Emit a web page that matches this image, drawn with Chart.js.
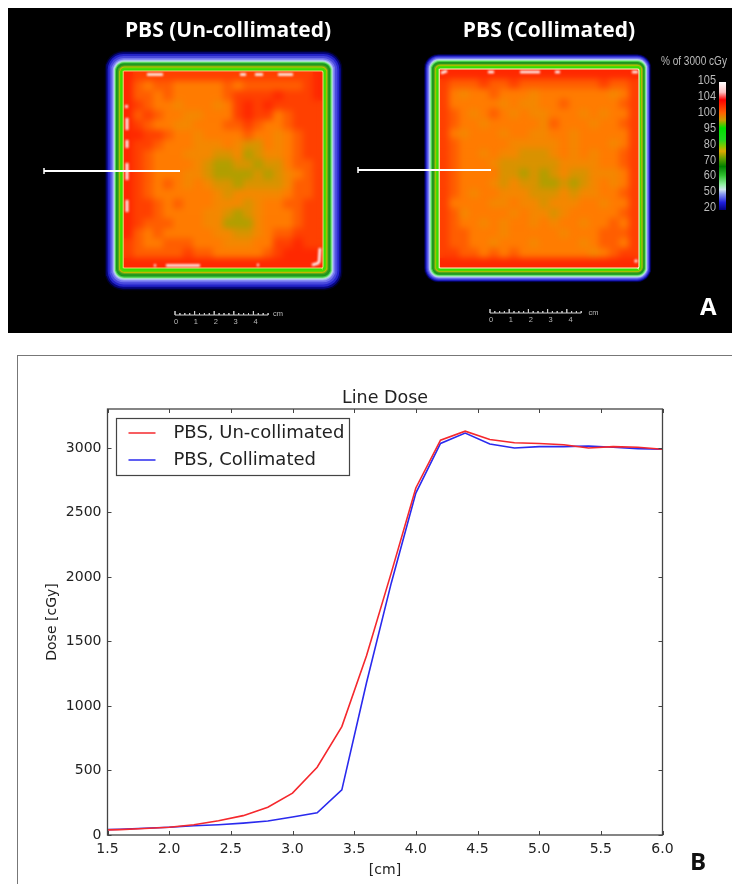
<!DOCTYPE html>
<html>
<head>
<meta charset="utf-8">
<title>Line Dose</title>
<script src="https://cdn.jsdelivr.net/npm/chart.js@4/dist/chart.umd.min.js"></script>
<style>
html, body { margin: 0; padding: 0; background: #fff; }
body { position: relative; width: 732px; height: 884px; overflow: hidden; }
canvas { position: absolute; }
#mapChart { left: 8px; top: 8px; background: #000; filter: blur(0.7px); }
#lineChart { left: 0; top: 340px; filter: blur(0.35px); }
#frame { position: absolute; left: 17px; top: 355px; width: 730px; height: 540px; border: 1px solid #777; }
#colorbar { position: absolute; left: 719px; top: 82px; width: 7px; height: 128px; filter: blur(0.4px); }
.txt { position: absolute; white-space: nowrap; }
.head { font: bold 21px "Open Sans", sans-serif; color: #fff; transform: translateX(-50%); top: 15px; filter: blur(0.3px); }
.bar { font: 13px "Liberation Sans", sans-serif; color: #bbb; transform: translate(-100%, -50%) scaleX(0.84); transform-origin: right center; filter: blur(0.3px); }
.cm { font: 7.5px "Liberation Sans", sans-serif; color: #bbb; transform: translate(-50%, -50%); }
.tag { font: bold 24px "Open Sans", sans-serif; }
</style>
</head>
<body>
<div id="frame"></div>
<canvas id="lineChart" width="732" height="544"></canvas>
<canvas id="mapChart" width="724" height="325"></canvas>
<div id="colorbar"></div>
<div class="txt head" style="left:228px">PBS (Un-collimated)</div>
<div class="txt head" style="left:549px">PBS (Collimated)</div>
<div class="txt bar" style="left:727px;top:61px;font-size:12px">% of 3000 cGy</div>
<div class="txt tag" style="left:700px;top:289px;color:#fff">A</div>
<div class="txt tag" style="left:690px;top:844px;color:#111">B</div>
<script>
// panel B, line dose
let profileCm = [1.5, 1.6, 1.8, 2.0, 2.2, 2.4, 2.6, 2.8, 3.0, 3.2, 3.4, 3.6, 3.8, 4.0, 4.2, 4.4, 4.6, 4.8, 5.0, 5.2, 5.4, 5.6, 5.8, 6.0];
let doseUncollimated = [40, 42, 50, 60, 80, 110, 150, 215, 325, 525, 840, 1390, 2030, 2690, 3060, 3130, 3065, 3040, 3035, 3025, 3000, 3010, 3005, 2990];
let doseCollimated = [42, 44, 52, 60, 72, 80, 92, 108, 140, 172, 350, 1180, 1950, 2650, 3035, 3115, 3030, 3000, 3010, 3010, 3015, 3005, 2995, 2990];
let xTicks = [1.5, 2.0, 2.5, 3.0, 3.5, 4.0, 4.5, 5.0, 5.5, 6.0];
let yTicks = [0, 500, 1000, 1500, 2000, 2500, 3000];

// panel A, dose in %, 20 x 20 cells
let mapUncollimated = [
  [103,102,102,102,102,102,102,102,102,102,102,102,102,102,102,102,102,102,102,103],
  [103,101,100,101,101,100,100,100,100,100,101,100,101,101,101,101,101,101,102,103],
  [103,101,101,100,101,100,100,100,100,100,101,102,102,102,102,103,102,102,102,103],
  [103,102,101,100,100,99,100,100,100,99,100,102,103,102,103,102,102,102,102,102],
  [103,101,102,101,100,100,99,99,100,100,100,102,103,102,102,100,101,102,102,102],
  [103,102,101,100,100,99,99,100,100,100,101,101,102,101,100,100,101,102,102,102],
  [103,103,102,102,101,100,100,99,100,100,100,100,101,100,100,99,100,101,102,102],
  [103,102,102,101,100,100,100,99,99,99,100,99,98,98,100,99,100,101,102,102],
  [103,102,101,100,100,100,99,99,99,98,98,99,97,98,99,99,100,101,102,102],
  [103,102,101,100,100,100,100,99,98,97,97,98,98,97,98,98,100,101,101,102],
  [103,102,101,100,100,100,99,99,98,97,97,97,97,98,97,98,99,100,101,102],
  [103,102,101,100,101,100,99,100,99,98,98,97,98,98,98,98,99,101,101,102],
  [103,102,101,100,100,100,100,100,100,99,98,99,99,99,99,99,100,101,101,102],
  [103,102,102,101,100,101,100,100,100,99,99,99,98,99,100,100,101,101,102,102],
  [103,102,102,101,100,100,100,100,99,99,98,97,98,99,100,100,100,101,102,102],
  [103,102,101,101,101,100,100,100,99,99,97,97,97,99,100,100,100,101,102,102],
  [103,101,100,101,100,100,100,100,100,99,99,98,98,99,100,101,101,102,102,102],
  [102,101,100,100,101,101,101,100,100,100,99,99,99,100,100,102,102,103,102,102],
  [102,101,101,101,101,101,102,101,101,100,100,100,100,100,101,102,103,103,103,103],
  [103,103,103,103,103,103,103,103,103,103,103,103,103,103,103,103,103,103,103,103]
];
let mapCollimated = [
  [103,103,103,103,103,103,103,103,103,103,103,103,103,103,103,103,103,103,103,103],
  [102,101,101,101,102,101,101,102,101,101,101,101,101,101,101,101,102,101,101,102],
  [102,100,99,100,100,101,100,100,100,99,100,100,100,100,100,100,100,99,100,102],
  [102,100,100,100,100,100,99,100,99,99,100,100,101,100,100,100,100,100,101,102],
  [102,101,100,99,100,101,100,99,100,99,99,100,100,100,99,100,99,100,100,102],
  [102,101,100,100,99,100,100,100,100,100,99,101,100,100,100,99,100,100,101,102],
  [102,100,99,100,100,100,99,100,100,99,99,100,100,99,100,100,100,100,100,102],
  [102,101,100,100,100,100,100,99,99,99,99,99,100,99,100,100,100,99,100,102],
  [102,101,100,100,99,100,99,99,98,98,98,99,100,99,100,99,100,100,101,102],
  [102,101,100,100,100,99,98,98,98,98,98,98,99,99,99,99,100,100,101,102],
  [102,101,100,100,100,100,98,98,97,98,97,98,99,98,98,99,99,99,100,102],
  [102,101,100,100,100,99,98,99,98,98,97,97,98,97,98,99,100,99,100,102],
  [102,101,100,99,100,100,99,99,99,98,98,98,99,98,99,99,100,100,101,102],
  [102,100,100,100,100,99,99,100,99,99,98,99,99,99,100,100,99,100,100,102],
  [102,101,99,100,100,100,100,99,100,99,99,98,99,100,100,100,100,100,101,102],
  [102,101,100,100,99,100,99,100,100,99,100,99,100,100,99,100,100,101,100,102],
  [102,101,101,100,100,100,99,100,100,100,100,100,99,100,100,100,101,101,101,102],
  [102,101,101,100,100,99,100,100,100,99,100,100,100,100,99,100,101,101,100,102],
  [102,102,101,101,100,101,100,101,100,100,100,100,100,100,100,99,100,101,102,102],
  [103,103,103,103,103,103,103,103,103,103,103,103,103,103,103,103,103,103,103,103]
];

// contour levels around each field, distance outside the edge in px of the map
let contourDose = [96, 90, 84, 79, 75, 71, 67, 62, 57, 53, 50, 40, 30, 20, 10, 3];
let outsetUncollimated = [0.5, 2, 3.5, 4.5, 5.5, 6.8, 7.8, 8.8, 9.6, 10.4, 11.4, 13, 15, 17, 18.8, 20.2];
let outsetCollimated = [0.5, 2, 3.3, 4.2, 5, 6.2, 7, 8, 9, 9.7, 10.3, 11.3, 12.3, 13.3, 14.3, 15];

// hot spots, white streaks on the maps [x1, y1, x2, y2] in page px
let streaksUncollimated = [[147,74.5,163,74.5],[240,74.5,246,74.5],[255,74.5,263,74.5],[278,74.5,293,74.5],[126.5,105,126.5,108],[127,118,127,130],[127,140,127,148],[127,163,127,180],[127,200,127,212],[154,265.5,156,265.5],[166,265.5,200,265.5],[257,265,259,265],[312,265,319,263],[319,263,320,248]];
let streaksCollimated = [[441,73,447,71],[488,72,494,72],[520,72,540,72],[555,72,560,72],[632,72,638,72],[635,262,637,260]];

let doseStops = [105, 104.4, 104, 102, 100, 99, 98, 97, 95, 85, 81, 78, 74, 68, 62, 57, 53, 50, 35, 20, 8, 0];
let doseColors = ['#ffffff','#ff9090','#ff1000','#ff4000','#ff7c00','#f48800','#d89400','#b0a000','#30dc00','#38e000','#90c800','#d8b000','#40a820','#108a18','#48d048','#90e8a0','#b8d8e8','#a0a8f8','#5a5ae8','#2424c8','#000070','#000000'];

let colorbarLabels = ['105', '104', '100', '95', '80', '70', '60', '50', '20'];
let colorbarColors = ['#ffffff','#ffc0c0','#ff0000','#ff6000','#c8a000','#00e000','#20d820','#80c800','#e0a800','#60a000','#008000','#30c030','#90f0a0','#d0e8f0','#8090f0','#2020e0','#000080'];
let colorbarOffsets = [0, 8, 14, 24, 30, 36, 45, 50, 54, 60, 66, 73, 80, 84, 88, 94, 100];
let scaleBarLabels = ['0', '1', '2', '3', '4'];

let pxPerCm = 19.9;
// page px to map cm
let cmX = px => (px - 8) / pxPerCm;
let cmY = px => (px - 8) / pxPerCm;

function hexRgb(h) {
  return [parseInt(h.slice(1, 3), 16), parseInt(h.slice(3, 5), 16), parseInt(h.slice(5, 7), 16)];
}

function doseColor(d) {
  if (d >= doseStops[0]) return doseColors[0];
  for (let i = 1; i < doseStops.length; i++) {
    if (d >= doseStops[i]) {
      let t = (d - doseStops[i]) / (doseStops[i - 1] - doseStops[i]);
      let a = hexRgb(doseColors[i]);
      let b = hexRgb(doseColors[i - 1]);
      return `rgb(${a[0] + (b[0] - a[0]) * t},${a[1] + (b[1] - a[1]) * t},${a[2] + (b[2] - a[2]) * t})`;
    }
  }
  return '#000000';
}

// rounded square outline in cm, edges given in page px
function outline(l, r, t, b, rad) {
  let pts = [];
  let corners = [[r - rad, t + rad, -90], [r - rad, b - rad, 0], [l + rad, b - rad, 90], [l + rad, t + rad, 180]];
  corners.forEach(c => {
    for (let a = 0; a <= 90; a += 15) {
      let ang = (c[2] + a) * Math.PI / 180;
      pts.push({ x: cmX(c[0] + rad * Math.cos(ang)), y: cmY(c[1] + rad * Math.sin(ang)) });
    }
  });
  pts.push(pts[0]);
  return pts;
}

function panelDatasets(field, grid, outsets, stretch, streaks, edgeColor) {
  let list = [];
  let streakPts = [];
  streaks.forEach(s => {
    streakPts.push({ x: cmX(s[0]), y: cmY(s[1]) }, { x: cmX(s[2]), y: cmY(s[3]) }, { x: cmX(s[2]), y: NaN });
  });
  list.push({ data: streakPts, soft: 0.8, showLine: true, spanGaps: false, borderColor: '#fff', borderWidth: 2.6, pointRadius: 0 });

  let cells = [];
  let cw = (field.r - field.l) / grid[0].length;
  let ch = (field.b - field.t) / grid.length;
  grid.forEach((row, j) => row.forEach((v, i) => {
    cells.push({ x: cmX(field.l + (i + 0.5) * cw), y: cmY(field.t + (j + 0.5) * ch), v: v });
  }));
  list.push({
    data: cells, field: field, pointStyle: 'rect', pointRadius: 7.2, pointBorderWidth: 0,
    pointBackgroundColor: c => doseColor(c.raw ? c.raw.v : 100)
  });

  // field edge, thin pale line
  list.push({
    data: outline(field.l, field.r, field.t, field.b, 1.5), showLine: true, fill: false,
    borderColor: edgeColor, borderWidth: 1.1, pointRadius: 0
  });
  // red floor of the field
  list.push({
    data: outline(field.l, field.r, field.t, field.b, 1.5), showLine: true, fill: 'shape',
    backgroundColor: doseColor(103), borderWidth: 0, pointRadius: 0
  });
  contourDose.forEach((d, i) => {
    let o = outsets[i];
    list.push({
      data: outline(field.l - o * stretch.l, field.r + o * stretch.r, field.t - o * stretch.t, field.b + o * stretch.b, 2 + o * 0.8),
      showLine: true, fill: 'shape', backgroundColor: doseColor(d), borderWidth: 0, pointRadius: 0
    });
  });
  return list;
}

function scaleBar(x0, y0, step) {
  let pts = [];
  for (let i = 0; i <= 19; i++) {
    let x = x0 + i * step;
    let h = i % 4 === 0 ? 4 : 2;
    pts.push({ x: cmX(x), y: cmY(y0) }, { x: cmX(x), y: cmY(y0 - h) }, { x: cmX(x), y: cmY(y0) });
  }
  return { data: pts, showLine: true, borderColor: '#cfcfcf', borderWidth: 1, pointRadius: 0 };
}

function profileMark(x1, x2, y) {
  return [
    { data: [{ x: cmX(x1), y: cmY(y) }, { x: cmX(x2), y: cmY(y) }], showLine: true, borderColor: '#fff', borderWidth: 2, pointRadius: 0 },
    { data: [{ x: cmX(x1), y: cmY(y - 3) }, { x: cmX(x1), y: cmY(y + 3) }], showLine: true, borderColor: '#ddd', borderWidth: 1, pointRadius: 0 }
  ];
}

let fieldA = { l: 123, r: 323, t: 71, b: 268 };
let fieldB = { l: 439, r: 639, t: 69, b: 268 };

let mapData = [].concat(
  profileMark(44, 180, 171),
  profileMark(358, 491, 170),
  [scaleBar(175, 315, 4.9), scaleBar(490, 313, 4.8)],
  panelDatasets(fieldA, mapUncollimated, outsetUncollimated, { l: 0.9, r: 0.96, t: 1.0, b: 1.1 }, streaksUncollimated, 'rgba(255,232,144,0.8)'),
  panelDatasets(fieldB, mapCollimated, outsetCollimated, { l: 1.0, r: 0.82, t: 1.0, b: 0.95 }, streaksCollimated, '#fff6c8')
);

// soften the dose cells as one layer, kept inside their field
let softCells = {
  id: 'softCells',
  beforeDatasetDraw(chart, args) {
    let ds = chart.data.datasets[args.index];
    if (ds.soft) {
      chart.ctx.save();
      chart.ctx.filter = 'blur(' + ds.soft + 'px)';
    }
    if (ds.field) {
      let f = ds.field, x = chart.scales.x, y = chart.scales.y;
      let left = x.getPixelForValue(cmX(f.l + 1)), top = y.getPixelForValue(cmY(f.t + 1));
      ds.box = [left, top, x.getPixelForValue(cmX(f.r - 1)) - left, y.getPixelForValue(cmY(f.b - 1)) - top];
      chart.ctx.save();
      chart.ctx.beginPath();
      chart.ctx.rect(ds.box[0], ds.box[1], ds.box[2], ds.box[3]);
      chart.ctx.clip();
    }
  },
  afterDatasetDraw(chart, args) {
    let ds = chart.data.datasets[args.index];
    if (ds.soft) chart.ctx.restore();
    if (ds.field) {
      let b = ds.box;
      chart.ctx.filter = 'blur(3px)';
      chart.ctx.drawImage(chart.canvas, b[0], b[1], b[2], b[3], b[0], b[1], b[2], b[3]);
      chart.ctx.filter = 'none';
      chart.ctx.restore();
    }
  }
};

new Chart(document.getElementById('mapChart'), {
  type: 'scatter',
  data: { datasets: mapData },
  options: {
    responsive: false,
    animation: false,
    events: [],
    layout: { padding: 0, autoPadding: false },
    scales: {
      x: { type: 'linear', display: false, min: 0, max: 724 / pxPerCm },
      y: { type: 'linear', display: false, min: 0, max: 325 / pxPerCm, reverse: true }
    },
    plugins: { legend: { display: false }, tooltip: { enabled: false } }
  },
  plugins: [softCells]
});

// colorbar and labels of panel A
document.getElementById('colorbar').style.background =
  'linear-gradient(to bottom,' + colorbarColors.map((c, i) => c + ' ' + colorbarOffsets[i] + '%').join(',') + ')';
colorbarLabels.forEach((t, i) => {
  let el = document.createElement('div');
  el.className = 'txt bar';
  el.style.left = '716px';
  el.style.top = (79 + i * 15.9) + 'px';
  el.textContent = t;
  document.body.appendChild(el);
});
[[176, 320.5, 278, 313], [491, 319, 593.5, 311.5]].forEach(p => {
  scaleBarLabels.forEach((t, i) => {
    let el = document.createElement('div');
    el.className = 'txt cm';
    el.style.left = (p[0] + i * 19.9) + 'px';
    el.style.top = p[1] + 'px';
    el.textContent = t;
    document.body.appendChild(el);
  });
  let cm = document.createElement('div');
  cm.className = 'txt cm';
  cm.style.left = p[2] + 'px';
  cm.style.top = p[3] + 'px';
  cm.textContent = 'cm';
  document.body.appendChild(cm);
});

// matplotlib look: box, inward ticks, boxed legend
let axesBox = {
  id: 'axesBox',
  afterLayout(chart) {
    let lg = chart.legend;
    lg.left += 12;
    lg.right += 12;
    lg.top = chart.chartArea.top + 6;
    lg.bottom = lg.top + lg.height;
  },
  afterDraw(chart) {
    let c = chart.ctx, a = chart.chartArea;
    c.save();
    c.strokeStyle = '#444';
    c.lineWidth = 1.3;
    c.strokeRect(a.left, a.top, a.right - a.left, a.bottom - a.top);
    c.lineWidth = 1;
    chart.scales.x.ticks.forEach(t => {
      let p = Math.round(chart.scales.x.getPixelForValue(t.value)) + 0.5;
      c.beginPath();
      c.moveTo(p, a.top); c.lineTo(p, a.top + 4);
      c.moveTo(p, a.bottom); c.lineTo(p, a.bottom - 4);
      c.stroke();
    });
    chart.scales.y.ticks.forEach(t => {
      let p = Math.round(chart.scales.y.getPixelForValue(t.value)) + 0.5;
      c.beginPath();
      c.moveTo(a.left, p); c.lineTo(a.left + 4, p);
      c.moveTo(a.right, p); c.lineTo(a.right - 4, p);
      c.stroke();
    });
    c.lineWidth = 1.2;
    c.strokeRect(116.5, 418.5 - 340, 233, 57);
    c.restore();
  }
};

new Chart(document.getElementById('lineChart'), {
  type: 'line',
  data: {
    datasets: [
      { label: 'PBS, Un-collimated', data: profileCm.map((x, i) => ({ x: x, y: doseUncollimated[i] })), borderColor: '#f5282d', borderWidth: 1.6, pointRadius: 0, tension: 0 },
      { label: 'PBS, Collimated', data: profileCm.map((x, i) => ({ x: x, y: doseCollimated[i] })), borderColor: '#2a2aee', borderWidth: 1.6, pointRadius: 0, tension: 0 }
    ]
  },
  options: {
    responsive: false,
    animation: false,
    events: [],
    layout: { padding: { left: 44, right: 69.5, top: 0, bottom: 0 } },
    scales: {
      x: {
        type: 'linear', min: 1.5, max: 6,
        grid: { display: false, drawTicks: false },
        border: { display: false },
        afterBuildTicks: s => { s.ticks = xTicks.map(v => ({ value: v })); },
        afterFit: s => { s.height = 49; },
        ticks: { color: '#222', font: { family: 'DejaVu Sans', size: 14 }, padding: 6, maxRotation: 0, autoSkip: false, callback: v => Number(v).toFixed(1) },
        title: { display: true, text: '[cm]', color: '#222', font: { family: 'DejaVu Sans', size: 14 }, padding: { top: 4, bottom: 5 } }
      },
      y: {
        type: 'linear', min: 0, max: 3302,
        grid: { display: false, drawTicks: false },
        border: { display: false },
        afterBuildTicks: s => { s.ticks = yTicks.map(v => ({ value: v })); },
        afterFit: s => { s.width = 63.5; },
        ticks: { color: '#222', font: { family: 'DejaVu Sans', size: 14 }, padding: 6, autoSkip: false, callback: v => String(v) },
        title: { display: true, text: 'Dose [cGy]', color: '#222', font: { family: 'DejaVu Sans', size: 14 }, padding: 0 }
      }
    },
    plugins: {
      title: { display: true, text: 'Line Dose', color: '#222', fullSize: false, font: { family: 'DejaVu Sans', size: 17.5, weight: 'normal' }, padding: { top: 47.5, bottom: 0.5 } },
      legend: {
        position: 'chartArea',
        align: 'start',
        labels: {
          color: '#222',
          font: { family: 'DejaVu Sans', size: 18 },
          padding: 9,
          usePointStyle: true,
          pointStyle: 'line',
          pointStyleWidth: 27,
          generateLabels(chart) {
            return Chart.defaults.plugins.legend.labels.generateLabels(chart).map(l => {
              l.text = '\u2002' + l.text;
              l.pointStyle = 'line';
              return l;
            });
          }
        }
      },
      tooltip: { enabled: false }
    }
  },
  plugins: [axesBox]
});
</script>
</body>
</html>
